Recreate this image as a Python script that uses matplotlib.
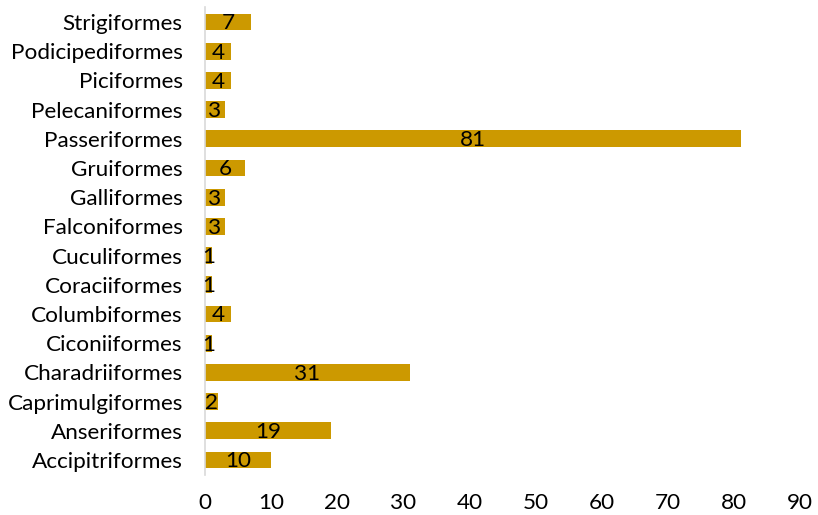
import matplotlib
matplotlib.use("Agg")
import matplotlib.pyplot as plt

categories = ["Accipitriformes", "Anseriformes", "Caprimulgiformes", "Charadriiformes",
              "Ciconiiformes", "Columbiformes", "Coraciiformes", "Cuculiformes",
              "Falconiformes", "Galliformes", "Gruiformes", "Passeriformes",
              "Pelecaniformes", "Piciformes", "Podicipediformes", "Strigiformes"]
values = [10, 19, 2, 31, 1, 4, 1, 1, 3, 3, 6, 81, 3, 4, 4, 7]
xticks = [0, 10, 20, 30, 40, 50, 60, 70, 80, 90]

plt.rcParams['font.family'] = ['Lato', 'DejaVu Sans']
fs = 16.2

fig = plt.figure(figsize=(8.18, 5.15), dpi=100)
ax = fig.add_axes([0.2506, 0.0785, 0.7274, 0.9071])
bars = ax.barh(range(len(categories)), values, height=0.58, color='#CC9900')
ax.set_ylim(-0.5, len(categories) - 0.5)
ax.set_xlim(0, 90)
ax.set_xticks(xticks)
ax.set_xticklabels([str(t) for t in xticks], fontsize=fs)
ax.set_yticks(range(len(categories)))
ax.set_yticklabels(categories, fontsize=fs)
ax.tick_params(axis='x', length=0, pad=13)
ax.tick_params(axis='y', length=0, pad=16)
for s in ['top', 'right', 'bottom']:
    ax.spines[s].set_visible(False)
ax.spines['left'].set_color('#D9D9D9')
ax.spines['left'].set_linewidth(1.2)
for b, v in zip(bars, values):
    ax.text(b.get_width() / 2, b.get_y() + b.get_height() / 2 - 0.05, str(v),
            ha='center', va='center', fontsize=fs, color='black')
fig.savefig("out.png", dpi=100)
